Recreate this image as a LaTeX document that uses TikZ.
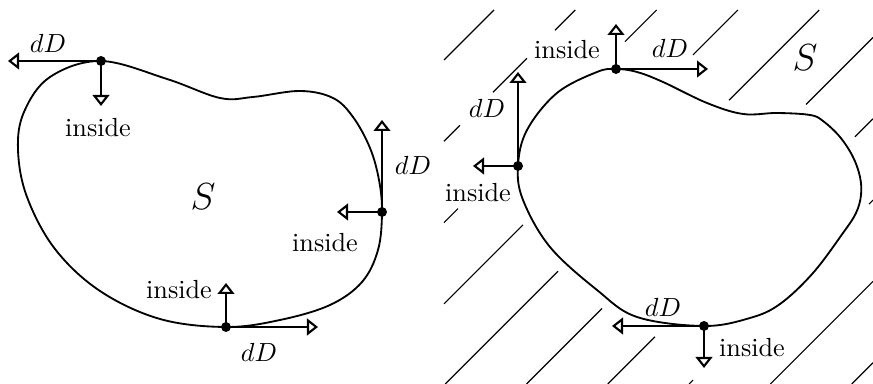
\documentclass[tikz,border=0pt]{standalone}
\usetikzlibrary{arrows.meta}
\begin{document}
\begin{tikzpicture}[x=0.3817pt,y=-0.3817pt,
  curve/.style={line width=0.7pt, line join=round},
  vec/.style={line width=0.8pt, -{Triangle[open,length=4.2pt,width=6.4pt]}},
  dot/.style={circle, fill=black, inner sep=0pt, minimum size=3.8pt},
  hatch/.style={line width=0.45pt},
  lbl/.style={inner sep=0pt},
  biglbl/.style={inner sep=0pt, font=\fontsize{15}{18}\selectfont}]
\useasboundingbox (0,0) rectangle (873,384);

% ---------- hatching of the right panel ----------
\foreach \c/\a/\b in {504/444/494,
  585.3/444/460, 585.3/493/527, 585.3/555/575.3,
  666.6/444/458, 666.6/625/656.6,
  747.9/444/523, 747.9/693/737.9,
  829.2/445.2/558, 829.2/729/819.2,
  910.5/526.5/602, 910.5/806/873,
  991.8/607.8/655, 991.8/855/873,
  1073.1/689.1/693, 1073.1/869/873,
  1154.4/770.4/873,
  1235.7/851.7/873}
  \draw[hatch] (\a,{\c-\a}) -- (\b,{\c-\b});

% ---------- left region ----------
\draw[curve] plot[smooth cycle, tension=0.6] coordinates {
  (101,61) (167,79) (220,98) (253,97) (300,91) (333,98) (353,117)
  (370,148) (379,180) (382,212) (378,250) (362,282) (330,305) (280,320) (226,327)
  (160,319) (100,291) (55,249) (27,197) (18,150) (24,112) (50,77)};

\coordinate (P1) at (101,61);
\coordinate (P1t) at (8,61);
\coordinate (P1n) at (101,106);
\coordinate (P2) at (382,212);
\coordinate (P2t) at (382,120);
\coordinate (P2n) at (337,212);
\coordinate (P3) at (226,327);
\coordinate (P3t) at (318,327);
\coordinate (P3n) at (226,283);

\draw[vec] (P1) -- (P1t);
\draw[vec] (P1) -- (P1n);
\draw[vec] (P2) -- (P2t);
\draw[vec] (P2) -- (P2n);
\draw[vec] (P3) -- (P3t);
\draw[vec] (P3) -- (P3n);
\node[dot] (D1) at (P1) {};
\node[dot] (D2) at (P2) {};
\node[dot] (D3) at (P3) {};

\node[lbl] (L1t) at (48,43) {$dD$};
\node[lbl] (L1n) at (98,128) {inside};
\node[lbl] (L2t) at (413,165) {$dD$};
\node[lbl] (L2n) at (325,243) {inside};
\node[lbl] (L3n) at (179,290) {inside};
\node[lbl] (L3t) at (259,352) {$dD$};
\node[biglbl] (S1) at (203,197) {$S$};

% ---------- right region ----------
\draw[curve] plot[smooth cycle, tension=0.6] coordinates {
  (616,69) (637,72) (663,82) (707,103) (743,114) (777,113) (810,115)
  (823,121) (840,137) (853,157) (860,177) (861,195) (856,213) (843,233)
  (813,273) (780,304) (750,318) (704,326) (637,317) (597,290)
  (550,247) (523,200) (518,166) (527,130) (557,93) (597,72)};

\coordinate (Q1) at (616,69);
\coordinate (Q1t) at (708,69);
\coordinate (Q1n) at (616,24);
\coordinate (Q2) at (518,166);
\coordinate (Q2t) at (518,72);
\coordinate (Q2n) at (473,166);
\coordinate (Q3) at (704,326);
\coordinate (Q3t) at (612,326);
\coordinate (Q3n) at (704,368);

\draw[vec] (Q1) -- (Q1t);
\draw[vec] (Q1) -- (Q1n);
\draw[vec] (Q2) -- (Q2t);
\draw[vec] (Q2) -- (Q2n);
\draw[vec] (Q3) -- (Q3t);
\draw[vec] (Q3) -- (Q3n);
\node[dot] (E1) at (Q1) {};
\node[dot] (E2) at (Q2) {};
\node[dot] (E3) at (Q3) {};

\node[lbl] (M1n) at (567,50) {inside};
\node[lbl] (M1t) at (670,48) {$dD$};
\node[lbl] (M2t) at (487,108) {$dD$};
\node[lbl] (M2n) at (478,193) {inside};
\node[lbl] (M3t) at (663,307) {$dD$};
\node[lbl] (M3n) at (752,348) {inside};
\node[biglbl] (S2) at (805,58) {$S$};
\end{tikzpicture}
\end{document}
